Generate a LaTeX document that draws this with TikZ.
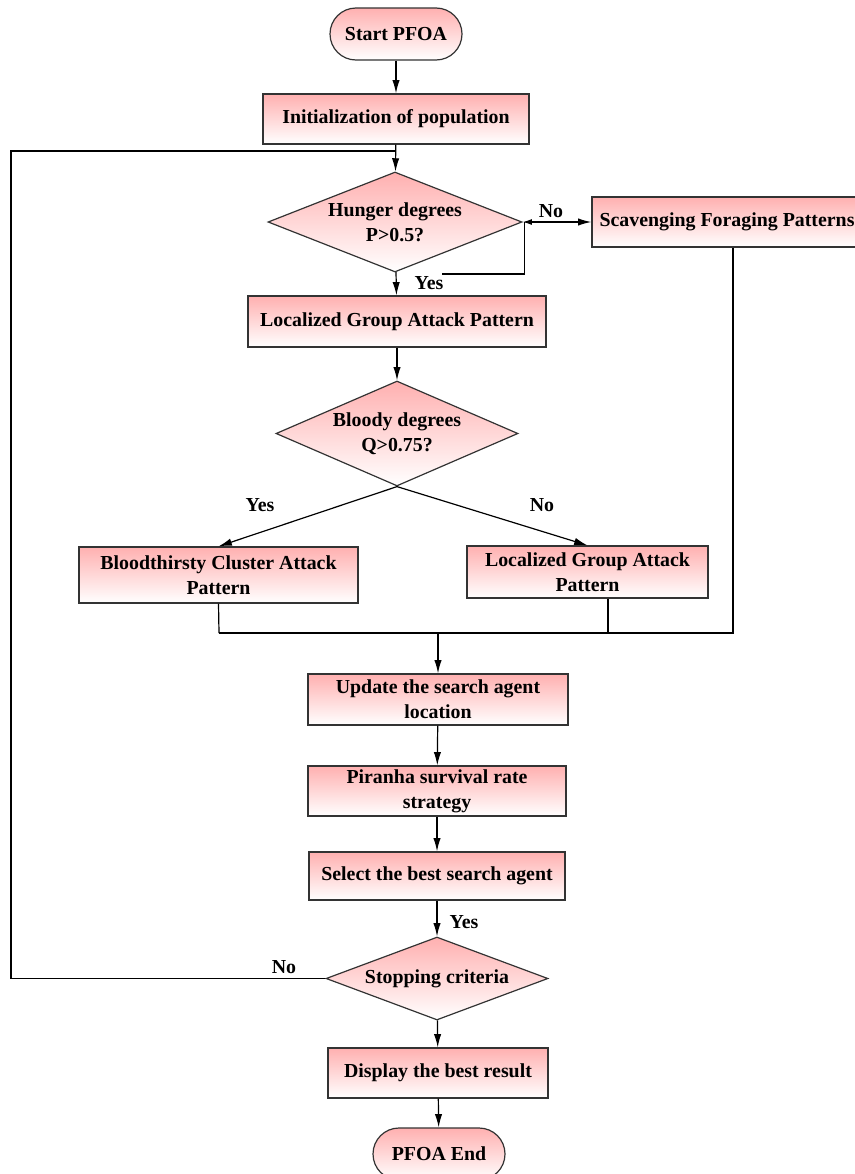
\documentclass[tikz,border=0pt]{standalone}
\usepackage{fontspec}
\setmainfont{Liberation Serif}
\usetikzlibrary{shapes.geometric,arrows.meta}

\tikzset{every picture/.style={line width=0.9pt}}
\tikzset{
  pinkbox/.style={draw={rgb,255:red,51;green,51;blue,51},top color={rgb,255:red,255;green,176;blue,176},bottom color=white,font=\fontsize{14.9}{18.75}\selectfont\bfseries,align=center,inner sep=0pt},
  termbox/.style={pinkbox,rounded corners=19.5pt},
  decbox/.style={pinkbox,shape=diamond},
  lbl/.style={font=\fontsize{14.9}{18.75}\selectfont\bfseries,inner sep=0pt},
  flow/.style={-{Latex[length=10pt,width=5.5pt]}}
}

\begin{document}
\begin{tikzpicture}[x=0.75pt,y=0.75pt,yscale=-1,xscale=1]
\useasboundingbox (0,0) rectangle (854,1174);

%Shape: Terminal [id:start]
\node [termbox,minimum width=99pt,minimum height=39pt] (start) at (396,34) {Start PFOA};
%Shape: Rectangle [id:init]
\node [pinkbox,minimum width=199.5pt,minimum height=37.5pt] (init) at (396,119) {Initialization of population};
%Shape: Diamond [id:hunger]
\node [decbox,minimum width=190.5pt,minimum height=75pt] (hunger) at (395,222) {};
\node [lbl,align=center] (hungertxt) at (395,222) {Hunger degrees\\P>0.5?};
%Shape: Rectangle [id:scav]
\node [pinkbox,minimum width=202.5pt,minimum height=37.5pt] (scav) at (727,222) {Scavenging Foraging Patterns};
%Shape: Rectangle [id:loc1]
\node [pinkbox,minimum width=223.5pt,minimum height=38.25pt] (loc1) at (397,321.5) {Localized Group Attack Pattern};
%Shape: Diamond [id:bloody]
\node [decbox,minimum width=181.5pt,minimum height=78.75pt] (bloody) at (397,433.5) {};
\node [lbl,align=center] (bloodytxt) at (397,433.5) {Bloody degrees\\Q>0.75?};
%Shape: Rectangle [id:blood]
\node [pinkbox,minimum width=209.25pt,minimum height=42pt] (blood) at (218.5,575) {Bloodthirsty Cluster Attack\\Pattern};
%Shape: Rectangle [id:loc2]
\node [pinkbox,minimum width=180.75pt,minimum height=39pt] (loc2) at (587.5,572) {Localized Group Attack\\Pattern};
%Shape: Rectangle [id:update]
\node [pinkbox,minimum width=195pt,minimum height=38.25pt] (update) at (438,699.5) {Update the search agent\\location};
%Shape: Rectangle [id:piranha]
\node [pinkbox,minimum width=193.5pt,minimum height=37.5pt] (piranha) at (437,791) {Piranha survival rate\\strategy};
%Shape: Rectangle [id:select]
\node [pinkbox,minimum width=192pt,minimum height=36pt] (select) at (437,876) {Select the best search agent};
%Shape: Diamond [id:stop]
\node [decbox,minimum width=166.5pt,minimum height=62.25pt] (stop) at (437,978.5) {};
\node [lbl] (stoptxt) at (437,978.5) {Stopping criteria};
%Shape: Rectangle [id:display]
\node [pinkbox,minimum width=165pt,minimum height=37.5pt] (display) at (438,1073) {Display the best result};
%Shape: Terminal [id:endn]
\node [termbox,minimum width=99pt,minimum height=39pt] (endn) at (439,1154) {PFOA End};

%Junctions
\coordinate (lp) at (11,151);
\coordinate (jn) at (396,151);
\coordinate (hk) at (442,274);
\coordinate (ml) at (219,633);
\coordinate (mb) at (608,633);

%Straight Lines
\draw [flow] (start) -- (init);
\draw [flow] (init) -- (hunger);
\draw (stop.west) -| (lp) -- (jn);
\draw [{Latex[length=7pt,width=4.5pt]}-{Latex[length=10pt,width=5.5pt]}] (hunger.east) -- (scav.west);
\draw (hk) -| ([xshift=1.5pt]hunger.east);
\draw [flow] (hunger) -- (loc1);
\draw [flow] (loc1) -- (bloody);
\draw [flow] (bloody.south) -- (blood.north);
\draw [flow] (bloody.south) -- (loc2.north);
\draw ([xshift=4.5pt]scav.south) |- (ml);
\draw (blood.south) -- (ml);
\draw (mb |- loc2.south) -- (mb);
\draw [flow] (update.north |- ml) -- (update);
\draw [flow] (update) -- (piranha);
\draw [flow] (piranha) -- (select);
\draw [flow] (select) -- (stop);
\draw [flow] (stop) -- (display);
\draw [flow] (display) -- (endn);

% Text Node
\node [lbl] (noa) at (551,211) {No};
% Text Node
\node [lbl] (yesa) at (429,283) {Yes};
% Text Node
\node [lbl] (yesb) at (260,505) {Yes};
% Text Node
\node [lbl] (nob) at (542,505) {No};
% Text Node
\node [lbl] (yesc) at (464,922) {Yes};
% Text Node
\node [lbl] (noc) at (284,967) {No};

\end{tikzpicture}
\end{document}
